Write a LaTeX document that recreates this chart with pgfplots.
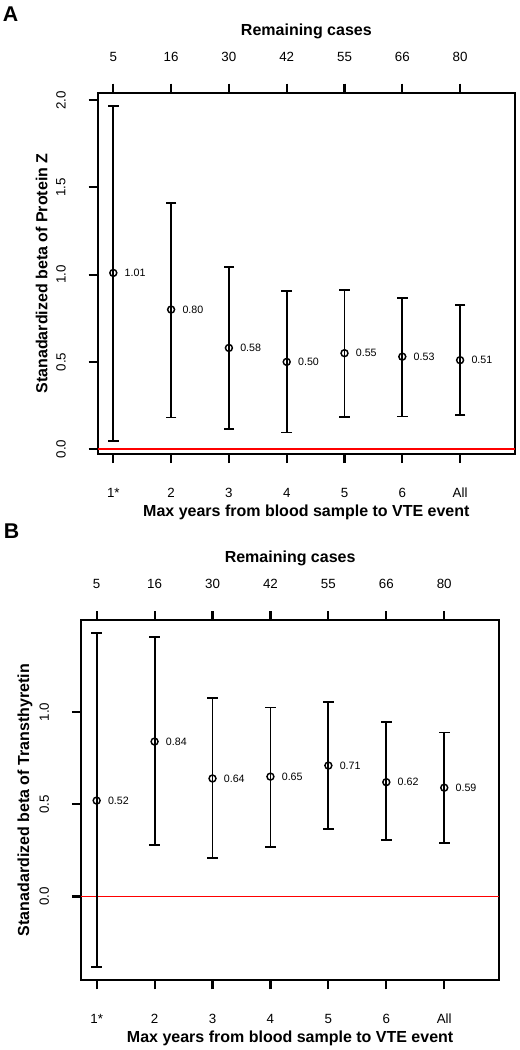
\documentclass[border=0pt]{standalone}
\usepackage{fontspec}
\setmainfont{Liberation Sans}
\usepackage{pgfplots}
\usepackage{pgfplotstable}
\pgfplotsset{compat=1.18}

\pgfplotstableread{
x y lo hi lab
1 1.01 0.049 1.966 1.01
2 0.80 0.181 1.411 0.80
3 0.58 0.116 1.044 0.58
4 0.50 0.095 0.904 0.50
5 0.55 0.184 0.912 0.55
6 0.53 0.187 0.868 0.53
7 0.51 0.195 0.826 0.51
}\dataA

\pgfplotstableread{
x y lo hi lab
1 0.52 -0.382 1.427 0.52
2 0.84 0.279 1.409 0.84
3 0.64 0.207 1.074 0.64
4 0.65 0.267 1.025 0.65
5 0.71 0.368 1.056 0.71
6 0.62 0.308 0.944 0.62
7 0.59 0.292 0.889 0.59
}\dataB

\pgfplotsset{
  common/.style={
    scale only axis,
    anchor=south west,
    xmin=0.73, xmax=7.95,
    axis line style={line width=1.3pt, black},
    major tick style={line width=1.6pt, black},
    tick align=outside,
    major tick length=6.75pt,
    /pgf/number format/assume math mode=true,
    ticklabel style={font=\fontsize{10}{12}\selectfont},
    every axis title/.style={at={(axis description cs:0.5,1)}, anchor=center, yshift=46.3pt, font=\bfseries\fontsize{12}{14}\selectfont},
    every axis x label/.style={at={(axis description cs:0.5,0)}, anchor=center, yshift=-43.7pt, font=\bfseries\fontsize{12}{14}\selectfont},
    every axis y label/.style={at={(axis description cs:0,0.5)}, xshift=-42pt, rotate=90, anchor=center, font=\bfseries\fontsize{12}{14}\selectfont},
  },
  mainax/.style={
    common,
    xtick={1,2,3,4,5,6,7},
    xticklabels={1*,2,3,4,5,6,All},
    xtick pos=bottom, ytick pos=left,
    xticklabel style={anchor=center, yshift=-22.3pt},
    yticklabel style={xshift=-20.8pt, rotate=90, anchor=center},
    xlabel={Max years from blood sample to VTE event},
  },
  topax/.style={
    common,
    hide y axis,
    xtick pos=top,
    xticklabel pos=top,
    xtick={1,2,3,4,5,6,7},
    xticklabels={5,16,30,42,55,66,80},
    xticklabel style={anchor=center, yshift=20.3pt},
    title={Remaining cases},
  },
  ci/.style={
    only marks, black,
    mark=o, mark size=2.6pt, mark options={line width=1.1pt},
    error bars/y dir=both, error bars/y explicit,
    error bars/error mark=none,
    error bars/error bar style={line width=1.4pt, black},
  },
  cap/.style={
    only marks, black, forget plot,
    mark=-, mark size=4pt, mark options={line width=1.4pt},
  },
  vals/.style={
    point meta=explicit symbolic,
    nodes near coords={\pgfplotspointmeta},
    nodes near coords style={anchor=west, inner sep=0pt, xshift=8pt, font=\fontsize{8}{9}\selectfont, black},
  },
}

\begin{document}
\begin{tikzpicture}
\useasboundingbox (0,0) rectangle (389.25pt,-787.5pt);

\node[font=\bfseries\fontsize{16}{18}\selectfont] at (7.9pt,-10.3pt) {A};
\node[font=\bfseries\fontsize{16}{18}\selectfont] at (8.6pt,-398.3pt) {B};

% Panel A
\begin{axis}[mainax, at={(73.28pt,-340.5pt)}, width=312.98pt, height=270.98pt,
  ymin=-0.028, ymax=2.043,
  ytick={0,0.5,1,1.5,2}, yticklabels={0.0,0.5,1.0,1.5,2.0},
  ylabel={Stanadardized beta of Protein Z}]
\addplot[red, line width=1.4pt, forget plot] coordinates {(0.73,0) (7.95,0)};
\addplot[ci, vals] table[x=x, y=y, meta=lab,
  y error plus expr=\thisrow{hi}-\thisrow{y},
  y error minus expr=\thisrow{y}-\thisrow{lo}] {\dataA};
\addplot[cap] table[x=x, y=hi] {\dataA};
\addplot[cap] table[x=x, y=lo] {\dataA};
\end{axis}
\begin{axis}[topax, at={(73.28pt,-340.5pt)}, width=312.98pt, height=270.98pt,
  ymin=-0.028, ymax=2.043]
\end{axis}

% Panel B
\begin{axis}[mainax, at={(60.75pt,-735.2pt)}, width=313.7pt, height=270.2pt,
  ymin=-0.454, ymax=1.499,
  ytick={0,0.5,1}, yticklabels={0.0,0.5,1.0},
  ylabel={Stanadardized beta of Transthyretin}]
\addplot[red, line width=1.4pt, forget plot] coordinates {(0.73,0) (7.95,0)};
\addplot[ci, vals] table[x=x, y=y, meta=lab,
  y error plus expr=\thisrow{hi}-\thisrow{y},
  y error minus expr=\thisrow{y}-\thisrow{lo}] {\dataB};
\addplot[cap] table[x=x, y=hi] {\dataB};
\addplot[cap] table[x=x, y=lo] {\dataB};
\end{axis}
\begin{axis}[topax, at={(60.75pt,-735.2pt)}, width=313.7pt, height=270.2pt,
  ymin=-0.454, ymax=1.499]
\end{axis}
\end{tikzpicture}
\end{document}
